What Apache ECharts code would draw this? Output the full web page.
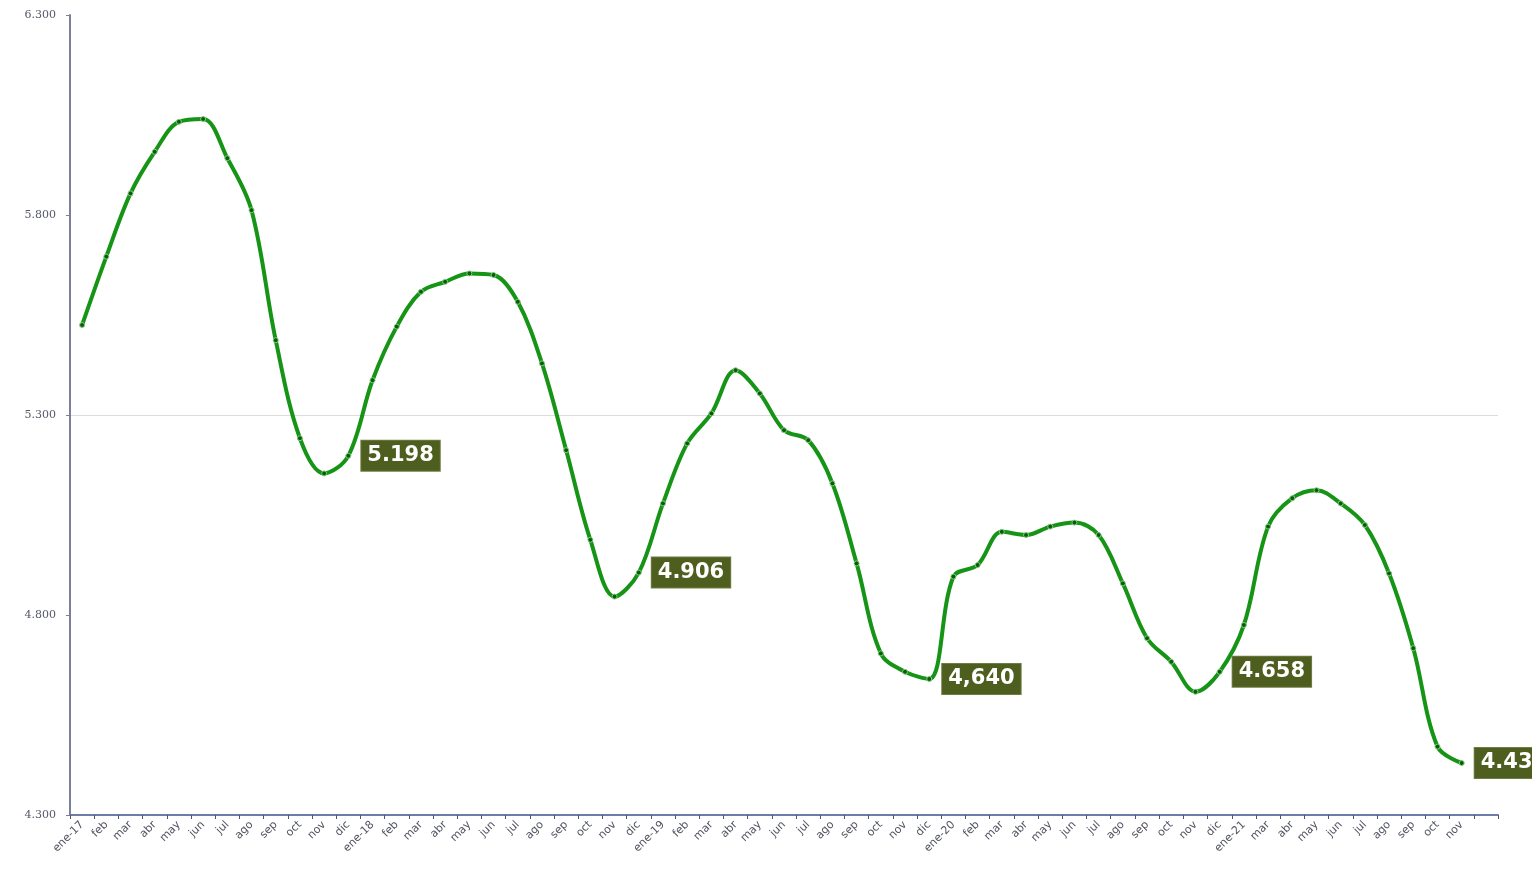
<!DOCTYPE html>
<html>
<head>
<meta charset="utf-8">
<script src="https://cdn.jsdelivr.net/npm/echarts@6/dist/echarts.min.js"></script>
<style>
html,body{margin:0;padding:0;background:#fff;}
#c{width:1532px;height:871px;}
</style>
</head>
<body>
<div id="c"></div>
<script>
const categories = [
  'ene-17','feb','mar','abr','may','jun','jul','ago','sep','oct','nov','dic',
  'ene-18','feb','mar','abr','may','jun','jul','ago','sep','oct','nov','dic',
  'ene-19','feb','mar','abr','may','jun','jul','ago','sep','oct','nov','dic',
  'ene-20','feb','mar','abr','may','jun','jul','ago','sep','oct','nov','dic',
  'ene-21','mar','abr','may','jun','jul','ago','sep','oct','nov',''
];
const values = [
  5525, 5696, 5854, 5958, 6033, 6040, 5942, 5812, 5487, 5242, 5154, 5198,
  5387, 5521, 5608, 5633, 5654, 5650, 5583, 5429, 5212, 4988, 4846, 4906,
  5079, 5229, 5304, 5412, 5354, 5262, 5237, 5129, 4929, 4704, 4658, 4640,
  4896, 4925, 5008, 5000, 5021, 5031, 5000, 4879, 4742, 4683, 4608, 4658,
  4775, 5021, 5092, 5112, 5079, 5025, 4904, 4717, 4471, 4430, null
];
// value labels shown in the chart (index -> text)
const labelIndex = [11, 23, 35, 47, 57];
const labelText = ['5.198', '4.906', '4,640', '4.658', '4.430'];
const yTicks = [4300, 4800, 5300, 5800, 6300];
const gridValue = 5300;

function fmtThousands(v) {
  const s = String(Math.round(v));
  return s.replace(/\B(?=(\d{3})+(?!\d))/g, '.');
}

const seriesData = values.map((v, i) => {
  const k = labelIndex.indexOf(i);
  if (k >= 0) {
    return {
      value: v,
      label: {
        show: true,
        position: 'right',
        distance: 10,
        formatter: labelText[k],
        color: '#ffffff',
        fontFamily: 'DejaVu Sans',
        fontWeight: 'bold',
        fontSize: 21,
        backgroundColor: '#4e5e1e',
        padding: [5, 6, 4, 6],
        borderColor: '#6f7d45',
        borderWidth: 1
      }
    };
  }
  return v;
});

const chart = echarts.init(document.getElementById('c'), null, {renderer: 'canvas'});
chart.setOption({
  animation: false,
  backgroundColor: '#ffffff',
  grid: {left: 70, right: 34, top: 15, bottom: 56, containLabel: false},
  xAxis: {
    type: 'category',
    data: categories,
    boundaryGap: true,
    axisLine: {lineStyle: {color: '#6f7ba8', width: 2}},
    axisTick: {show: true, length: 4, lineStyle: {color: '#4a5578'}, interval: 0},
    axisLabel: {
      interval: 0,
      rotate: 45,
      fontSize: 11,
      color: '#505460',
      fontFamily: 'DejaVu Sans',
      margin: 8
    },
    splitLine: {show: false}
  },
  yAxis: {
    type: 'value',
    min: yTicks[0],
    max: yTicks[yTicks.length - 1],
    interval: 500,
    axisLine: {show: true, lineStyle: {color: '#7c7f9a', width: 2}},
    axisTick: {show: true, length: 4, lineStyle: {color: '#7c7f9a'}},
    axisLabel: {
      fontSize: 11,
      color: '#555866',
      fontFamily: 'DejaVu Serif',
      margin: 14,
      formatter: v => fmtThousands(v)
    },
    splitLine: {show: false}
  },
  series: [{
    type: 'line',
    data: seriesData,
    smooth: 0.35,
    connectNulls: false,
    symbol: 'circle',
    symbolSize: 5,
    showAllSymbol: true,
    lineStyle: {color: '#169416', width: 4},
    itemStyle: {color: '#0d5a0d', borderColor: '#7fd07f', borderWidth: 1},
    label: {show: false},
    markLine: {
      silent: true,
      symbol: 'none',
      label: {show: false},
      lineStyle: {color: '#dcdcdc', type: 'solid', width: 1},
      data: [{yAxis: gridValue}],
      z: 0
    },
    z: 3
  }]
});
</script>
</body>
</html>
